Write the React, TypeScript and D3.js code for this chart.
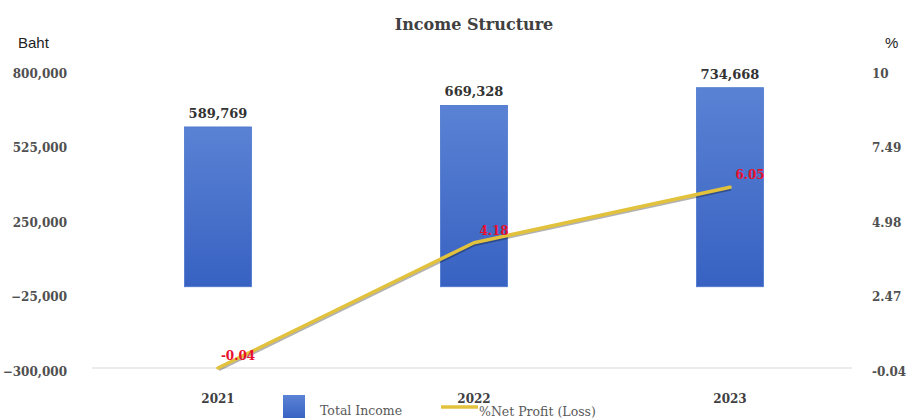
import { useEffect, useRef } from 'react';
import * as d3 from 'd3';

const years = ['2021', '2022', '2023'];
const totalIncome = [589769, 669328, 734668];
const netProfitPct = [-0.04, 4.18, 6.05];
const leftTicks = [-300000, -25000, 250000, 525000, 800000];
const rightTicks = [-0.04, 2.47, 4.98, 7.49, 10];

export default function App() {
  const svgRef = useRef<SVGSVGElement | null>(null);

  useEffect(() => {
    const width = 914;
    const height = 418;
    const plotTop = 70;
    const plotBottom = 368;
    const serif = '"DejaVu Serif", Georgia, serif';
    const sans = '"Liberation Sans", Arial, sans-serif';

    const svg = d3.select(svgRef.current);
    svg.selectAll('*').remove();

    // scales
    const x = d3.scalePoint().domain(years).range([90, 858]).padding(0.5);
    const yL = d3.scaleLinear().domain([-300000, 800000]).range([plotBottom, plotTop]);
    const yR = d3.scaleLinear().domain([-0.04, 10]).range([plotBottom, plotTop]);
    const barW = 67;

    const defs = svg.append('defs');
    const grad = defs.append('linearGradient').attr('id', 'barGrad').attr('x1', 0).attr('y1', 0).attr('x2', 0).attr('y2', 1);
    grad.append('stop').attr('offset', '0%').attr('stop-color', '#5a82d4');
    grad.append('stop').attr('offset', '100%').attr('stop-color', '#3862c2');

    svg.append('rect').attr('width', width).attr('height', height).attr('fill', '#fff');

    // title
    svg.append('text')
      .attr('x', 474).attr('y', 30)
      .attr('text-anchor', 'middle')
      .attr('font-family', serif).attr('font-weight', 'bold').attr('font-size', 16)
      .attr('fill', '#404040')
      .text('Income Structure');

    // unit labels
    svg.append('text').attr('x', 18).attr('y', 48)
      .attr('font-family', sans).attr('font-size', 15).attr('fill', '#222')
      .text('Baht');
    svg.append('text').attr('x', 885).attr('y', 48)
      .attr('font-family', sans).attr('font-size', 15).attr('fill', '#222')
      .text('%');

    // left axis
    const axL = svg.append('g')
      .attr('transform', 'translate(70,0)')
      .call(d3.axisLeft(yL).tickValues(leftTicks).tickSize(0).tickPadding(3).tickFormat((d) => d3.format(',')(d as number)));
    axL.select('.domain').remove();
    axL.selectAll('text')
      .attr('font-family', serif).attr('font-weight', 'bold').attr('font-size', 12)
      .attr('fill', '#505050').attr('dy', '0.6em');

    // right axis
    const axR = svg.append('g')
      .attr('transform', 'translate(870,0)')
      .call(d3.axisRight(yR).tickValues(rightTicks).tickSize(0).tickPadding(2).tickFormat((d) => String(d)));
    axR.select('.domain').remove();
    axR.selectAll('text')
      .attr('font-family', serif).attr('font-weight', 'bold').attr('font-size', 12)
      .attr('fill', '#505050').attr('dy', '0.6em');

    // baseline
    svg.append('line')
      .attr('x1', 92).attr('x2', 852)
      .attr('y1', yL(-300000)).attr('y2', yL(-300000))
      .attr('stroke', '#d9d9d9').attr('stroke-width', 1.2);

    // bars
    svg.append('g').selectAll('rect')
      .data(years)
      .join('rect')
      .attr('x', (d) => (x(d) as number) - barW / 2)
      .attr('y', (_, i) => yL(totalIncome[i]))
      .attr('width', barW)
      .attr('height', (_, i) => yL(0) - yL(totalIncome[i]))
      .attr('fill', 'url(#barGrad)')
      .attr('stroke', '#4a74cc').attr('stroke-width', 0.8);

    svg.append('g').selectAll('text')
      .data(years)
      .join('text')
      .attr('x', (d) => x(d) as number)
      .attr('y', (_, i) => yL(totalIncome[i]) - 9)
      .attr('text-anchor', 'middle')
      .attr('font-family', serif).attr('font-weight', 'bold').attr('font-size', 13)
      .attr('fill', '#333')
      .text((_, i) => d3.format(',')(totalIncome[i]));

    // line
    const line = d3.line<number>()
      .x((_, i) => x(years[i]) as number)
      .y((d) => yR(d))
      .curve(d3.curveLinear);

    svg.append('path')
      .datum(netProfitPct)
      .attr('d', line)
      .attr('transform', 'translate(1,2)')
      .attr('fill', 'none').attr('stroke', '#000').attr('stroke-opacity', 0.3).attr('stroke-width', 2.5)
      .attr('stroke-linejoin', 'round');
    svg.append('path')
      .datum(netProfitPct)
      .attr('d', line)
      .attr('fill', 'none').attr('stroke', '#e2c23c').attr('stroke-width', 3.5)
      .attr('stroke-linecap', 'round').attr('stroke-linejoin', 'round');

    svg.append('g').selectAll('text')
      .data(netProfitPct)
      .join('text')
      .attr('x', (_, i) => (x(years[i]) as number) + 20)
      .attr('y', (d) => yR(d) - 8)
      .attr('text-anchor', 'middle')
      .attr('font-family', serif).attr('font-weight', 'bold').attr('font-size', 12)
      .attr('fill', '#e8102e')
      .text((d) => d.toFixed(2));

    // category labels
    svg.append('g').selectAll('text')
      .data(years)
      .join('text')
      .attr('x', (d) => x(d) as number)
      .attr('y', 403)
      .attr('text-anchor', 'middle')
      .attr('font-family', serif).attr('font-weight', 'bold').attr('font-size', 12)
      .attr('fill', '#404040')
      .text((d) => d);

    // legend
    svg.append('rect').attr('x', 283).attr('y', 395).attr('width', 22).attr('height', 24).attr('fill', 'url(#barGrad)');
    svg.append('text').attr('x', 320).attr('y', 415)
      .attr('font-family', serif).attr('font-size', 12.5).attr('fill', '#595959')
      .text('Total Income');
    svg.append('line').attr('x1', 441).attr('x2', 478).attr('y1', 407).attr('y2', 407)
      .attr('stroke', '#e2c23c').attr('stroke-width', 3.5);
    svg.append('text').attr('x', 479).attr('y', 416)
      .attr('font-family', serif).attr('font-size', 12.5).attr('fill', '#595959')
      .text('%Net Profit (Loss)');
  }, []);

  return (
    <svg
      ref={svgRef}
      width={914}
      height={418}
      style={{ position: 'absolute', left: 0, top: 0, display: 'block' }}
    />
  );
}
